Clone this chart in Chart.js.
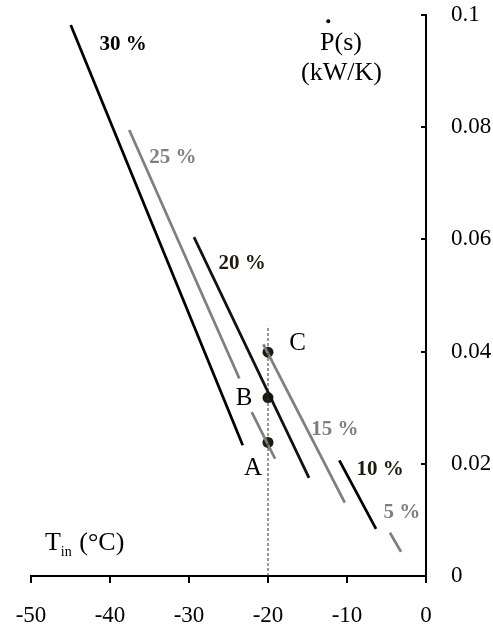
<!DOCTYPE html>
<html>
<head>
<meta charset="utf-8">
<style>
  html, body { margin: 0; padding: 0; background: #fff; }
  #wrap { width: 493px; height: 627px; position: relative; }
</style>
<script src="https://cdn.jsdelivr.net/npm/chart.js@4.4.1/dist/chart.umd.min.js"></script>
</head>
<body>
<div id="wrap"><canvas id="c" width="493" height="627"></canvas></div>
<script>
// Axis ticks
const xTicks = [-50, -40, -30, -20, -10, 0];
const xTickLabels = ['-50', '-40', '-30', '-20', '-10', '0'];
const yTicks = [0, 0.02, 0.04, 0.06, 0.08, 0.1];
const yTickLabels = ['0', '0.02', '0.04', '0.06', '0.08', '0.1'];

// Entropy generation rate vs. inlet temperature, one curve per share
const seriesNames = ['30 %', '25 %', '20 %', '15 %', '10 %', '5 %'];
const t30 = [-44.97, -23.20];            const p30 = [0.0982, 0.0233];
const t25 = [-37.56, -23.63, null, -22.06, -19.11];
const p25 = [0.0795, 0.0352, null, 0.0292, 0.0209];
const t20 = [-29.37, -14.81];            const p20 = [0.0604, 0.0175];
const t15 = [-20.59, -10.28];            const p15 = [0.0413, 0.0131];
const t10 = [-10.97, -6.33];             const p10 = [0.0206, 0.0084];
const t5  = [-4.56, -3.16];              const p5  = [0.0077, 0.0043];

// Operating points at Tin = -20 °C
const pointNames = ['A', 'B', 'C'];
const pointT = [-20, -20, -20];
const pointP = [0.0238, 0.0318, 0.0399];

// Reference temperature marker
const markerT = [-20, -20];
const markerP = [0, 0.0446];

// Curve labels (anchor = centre of text baseline)
const curveLabelT = [-38.35, -32.03, -23.29, -11.52, -5.82, -3.04];
const curveLabelP = [0.0938, 0.0737, 0.0548, 0.0251, 0.0180, 0.0103];
// Point labels (anchor = centre of text baseline)
const pointLabelT = [-21.90, -23.04, -16.24];
const pointLabelP = [0.0180, 0.0305, 0.0402];

const GRAY = '#7f7f7f';
const DARK = '#1e1a0c';
const SERIF = '"Liberation Serif", "Times New Roman", serif';

const curveColors = ['#000000', GRAY, '#111111', GRAY, '#000000', GRAY];
const curveTextColors = ['#000000', GRAY, DARK, GRAY, DARK, GRAY];

function pts(ts, ps) {
  return ts.map((t, i) => ({ x: t, y: ps[i] }));
}

const curves = [[t30, p30], [t25, p25], [t20, p20], [t15, p15], [t10, p10], [t5, p5]];

const datasets = [{
  label: 'Tin = -20',
  data: pts(markerT, markerP),
  showLine: true,
  borderColor: '#333333',
  borderWidth: 1,
  borderDash: [3, 2],
  pointRadius: 0
}];
curves.forEach(([ts, ps], i) => {
  datasets.push({
    label: seriesNames[i],
    data: pts(ts, ps),
    showLine: true,
    spanGaps: false,
    borderColor: curveColors[i],
    borderWidth: 2.75,
    pointRadius: 0
  });
});
datasets.push({
  label: 'points',
  data: pts(pointT, pointP),
  showLine: false,
  pointRadius: 5.5,
  pointBackgroundColor: DARK,
  pointBorderWidth: 0
});

const annotations = {
  id: 'annotations',
  afterDatasetsDraw(chart) {
    const { ctx, chartArea } = chart;
    const xs = chart.scales.x, ys = chart.scales.y;
    ctx.save();

    // tick marks: outward on the bottom axis, inward on the right-hand axis
    ctx.strokeStyle = '#000';
    ctx.lineWidth = 2;
    xTicks.forEach(v => {
      const px = Math.round(xs.getPixelForValue(v));
      ctx.beginPath();
      ctx.moveTo(px, chartArea.bottom);
      ctx.lineTo(px, chartArea.bottom + 7);
      ctx.stroke();
    });
    yTicks.forEach(v => {
      const py = Math.round(ys.getPixelForValue(v));
      ctx.beginPath();
      ctx.moveTo(chartArea.right - 5, py);
      ctx.lineTo(chartArea.right, py);
      ctx.stroke();
    });

    ctx.textAlign = 'center';
    ctx.textBaseline = 'alphabetic';

    // curve labels
    ctx.font = 'bold 21px ' + SERIF;
    seriesNames.forEach((name, i) => {
      ctx.fillStyle = curveTextColors[i];
      ctx.fillText(name, xs.getPixelForValue(curveLabelT[i]), ys.getPixelForValue(curveLabelP[i]));
    });

    // point labels
    ctx.font = '25px ' + SERIF;
    ctx.fillStyle = '#000';
    pointNames.forEach((name, i) => {
      ctx.fillText(name, xs.getPixelForValue(pointLabelT[i]), ys.getPixelForValue(pointLabelP[i]));
    });

    // y-axis title: P with overdot, units below
    ctx.font = '26px ' + SERIF;
    const px = xs.getPixelForValue(-10.76);
    const py = ys.getPixelForValue(0.0938);
    ctx.fillText('P(s)', px, py);
    const pw = ctx.measureText('P').width;
    const full = ctx.measureText('P(s)').width;
    ctx.beginPath();
    ctx.arc(px - full / 2 + pw / 2 + 1, py - 28.5, 2, 0, Math.PI * 2);
    ctx.fill();
    ctx.fillText('(kW/K)', xs.getPixelForValue(-10.70), ys.getPixelForValue(0.0884));

    // x-axis title: T_in (°C)
    ctx.textAlign = 'left';
    let tx = xs.getPixelForValue(-48.23);
    const ty = ys.getPixelForValue(0.0046);
    ctx.font = '26px ' + SERIF;
    ctx.fillText('T', tx, ty);
    tx += ctx.measureText('T').width;
    ctx.font = '14px ' + SERIF;
    ctx.fillText('in', tx, ty + 6);
    tx += ctx.measureText('in').width;
    ctx.font = '26px ' + SERIF;
    ctx.fillText(' (°C)', tx + 1, ty);

    ctx.restore();
  }
};

new Chart(document.getElementById('c'), {
  type: 'scatter',
  data: { datasets },
  options: {
    responsive: false,
    animation: false,
    devicePixelRatio: 1,
    layout: { padding: { left: 31, top: 15, right: 0, bottom: 0 } },
    plugins: { legend: { display: false }, tooltip: { enabled: false } },
    scales: {
      x: {
        type: 'linear',
        position: 'bottom',
        min: -50, max: 0,
        afterFit(scale) { scale.height = 51; },
        afterBuildTicks(scale) { scale.ticks = xTicks.map(v => ({ value: v })); },
        ticks: {
          color: '#000',
          padding: 0,
          maxRotation: 0,
          font: { family: SERIF, size: 23 },
          callback: (v) => xTickLabels[xTicks.indexOf(v)]
        },
        grid: { display: false, drawTicks: true, tickLength: 26 },
        border: { display: true, color: '#000', width: 2 }
      },
      y: {
        type: 'linear',
        position: 'right',
        min: 0, max: 0.1,
        afterFit(scale) { scale.width = 67; },
        afterBuildTicks(scale) { scale.ticks = yTicks.map(v => ({ value: v })); },
        ticks: {
          color: '#000',
          padding: 0,
          font: { family: SERIF, size: 23 },
          callback: (v) => yTickLabels[yTicks.indexOf(v)]
        },
        grid: { display: false, drawTicks: true, tickLength: 25 },
        border: { display: true, color: '#000', width: 2 }
      }
    }
  },
  plugins: [annotations]
});
</script>
</body>
</html>
